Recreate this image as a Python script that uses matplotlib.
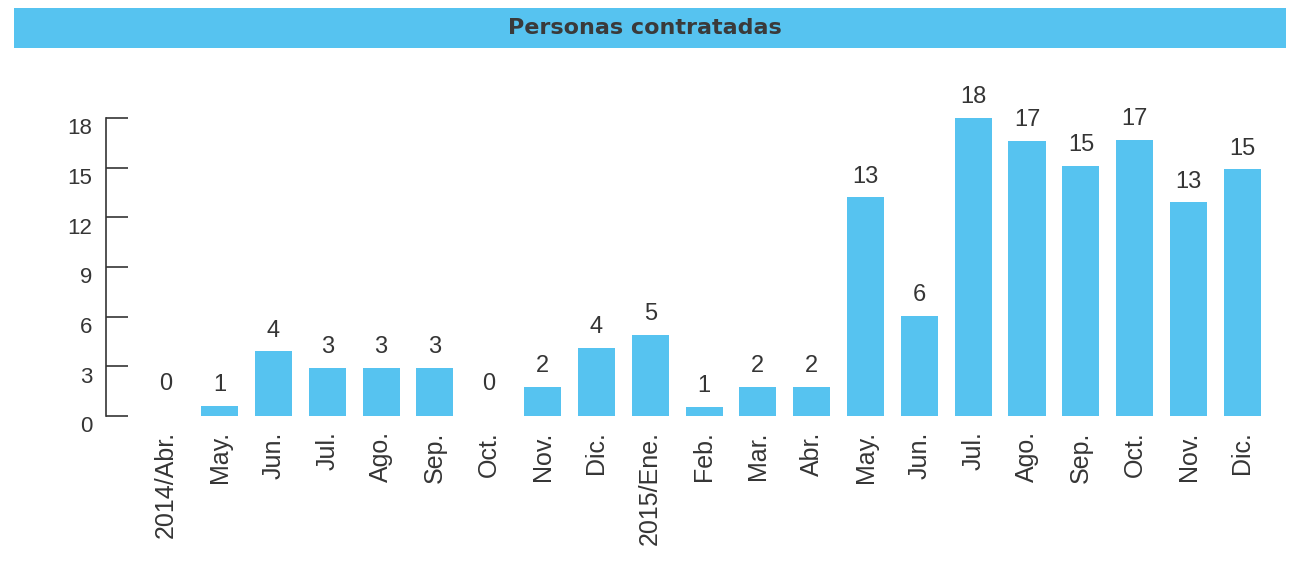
import matplotlib
matplotlib.use("Agg")
import matplotlib.pyplot as plt
from matplotlib.patches import Rectangle
import matplotlib.transforms as mtransforms

categories = ["2014/Abr.", "May.", "Jun.", "Jul.", "Ago.", "Sep.", "Oct.", "Nov.", "Dic.",
              "2015/Ene.", "Feb.", "Mar.", "Abr.", "May.", "Jun.", "Jul.", "Ago.", "Sep.",
              "Oct.", "Nov.", "Dic."]
bar_heights = [0, 0.6, 3.9, 2.9, 2.9, 2.9, 0, 1.75, 4.1, 4.9, 0.55, 1.75, 1.75,
               13.2, 6.05, 18, 16.6, 15.1, 16.7, 12.9, 14.9]
value_labels = ["0", "1", "4", "3", "3", "3", "0", "2", "4", "5", "1", "2", "2",
                "13", "6", "18", "17", "15", "17", "13", "15"]
yticks = [0, 3, 6, 9, 12, 15, 18]
title = "Personas contratadas"

BLUE = "#56C3F0"
TXT = "#353535"
plt.rcParams['font.family'] = ['Liberation Sans', 'DejaVu Sans']

W, H = 1290, 583
fig = plt.figure(figsize=(W / 100, H / 100), dpi=100)

# title banner
fig.patches.append(Rectangle((14 / W, 1 - 48 / H), (1286 - 14) / W, 40 / H,
                             transform=fig.transFigure, facecolor=BLUE, edgecolor='none'))
fig.text(0.5, 1 - 28 / H, title, ha='center', va='center', fontsize=16,
         fontweight='bold', color="#3a3a3a", family='DejaVu Sans')

left, right, bottom, top = 106 / W, 1272 / W, 1 - 416 / H, 1 - 118 / H
ax = fig.add_axes([left, bottom, right - left, top - bottom])
x = list(range(len(categories)))
ax.bar(x, bar_heights, width=0.69, color=BLUE)
ax.set_xlim(-1.11, 20.55)
ax.set_ylim(0, 18)

for xi, h, lab in zip(x, bar_heights, value_labels):
    off = 15 if h == 0 else 7
    ax.annotate(lab, (xi, h), xytext=(0, off), textcoords='offset points',
                ha='center', va='bottom', fontsize=17, color=TXT, annotation_clip=False)

for s in ['top', 'right', 'bottom']:
    ax.spines[s].set_visible(False)
ax.spines['left'].set_color(TXT)
ax.spines['left'].set_linewidth(1.2)
ax.set_yticks(yticks)
ax.set_yticklabels([str(v) for v in yticks])
ax.tick_params(axis='y', direction='in', length=16, width=1.2, color=TXT,
               labelsize=16, labelcolor=TXT, pad=10)
offset = mtransforms.ScaledTranslation(0, -6 / 72, fig.dpi_scale_trans)
for lbl in ax.get_yticklabels():
    lbl.set_transform(lbl.get_transform() + offset)

ax.set_xticks(x)
ax.set_xticklabels(categories, rotation=90, fontsize=18, color=TXT)
ax.tick_params(axis='x', length=0, pad=11)

fig.savefig("out.png", dpi=100)
